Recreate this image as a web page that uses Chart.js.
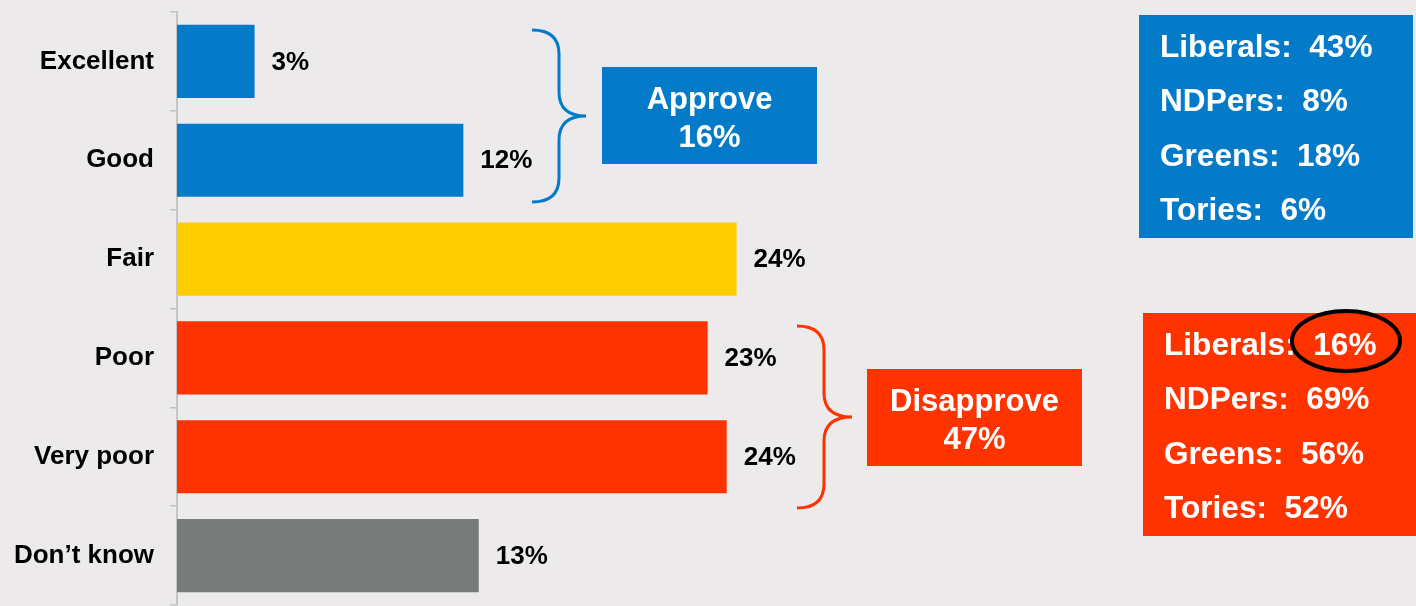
<!DOCTYPE html>
<html>
<head>
<meta charset="utf-8">
<script src="https://cdn.jsdelivr.net/npm/chart.js@4"></script>
<style>
  html, body { margin: 0; padding: 0; background: #ECEAEB; }
  #wrap { width: 1416px; height: 606px; position: relative; }
</style>
</head>
<body>
<div id="wrap"><canvas id="grafico"></canvas></div>
<script>
// Datos de la encuesta
const categories = ["Excellent", "Good", "Fair", "Poor", "Very poor", "Don\u2019t know"];
const shares = [3.37, 12.44, 24.31, 23.05, 23.88, 13.11];
const barColors = ["#037BC8", "#037BC8", "#FFCC00", "#FF3300", "#FF3300", "#777C7B"];

// Desglose por partido
const partyNames = ["Liberals", "NDPers", "Greens", "Tories"];
const approveByParty = [43, 8, 18, 6];
const disapproveByParty = [16, 69, 56, 52];

const BLUE = "#037BC8";
const RED = "#FF3300";
const BG = "#ECEAEB";
const FONT = "'Liberation Sans', Arial, sans-serif";

// Totales de los grupos (aprobado = Excellent + Good, desaprobado = Poor + Very poor)
const approveTotal = Math.round(shares[0] + shares[1]);
const disapproveTotal = Math.round(shares[3] + shares[4]);

// Llave "}" con punta hacia la derecha
function drawBrace(ctx, xEnd, xMid, xTip, yTop, yMid, yBot, r, color) {
    ctx.save();
    ctx.strokeStyle = color;
    ctx.lineWidth = 3;
    ctx.beginPath();
    ctx.moveTo(xEnd, yTop);
    ctx.quadraticCurveTo(xMid, yTop, xMid, yTop + r);
    ctx.lineTo(xMid, yMid - r);
    ctx.quadraticCurveTo(xMid, yMid, xTip, yMid);
    ctx.quadraticCurveTo(xMid, yMid, xMid, yMid + r);
    ctx.lineTo(xMid, yBot - r);
    ctx.quadraticCurveTo(xMid, yBot, xEnd, yBot);
    ctx.stroke();
    ctx.restore();
}

// Caja con texto centrado en dos líneas
function drawSummaryBox(ctx, x, y, w, h, color, lines) {
    ctx.save();
    ctx.fillStyle = color;
    ctx.fillRect(x, y, w, h);
    ctx.fillStyle = "#FFFFFF";
    ctx.font = "bold 31px " + FONT;
    ctx.textAlign = "center";
    ctx.textBaseline = "alphabetic";
    lines.forEach((t, i) => ctx.fillText(t, x + w / 2, y + 42 + i * 38));
    ctx.restore();
}

// Caja con el desglose por partido
function drawPartyBox(ctx, x, y, w, h, color, values) {
    ctx.save();
    ctx.fillStyle = color;
    ctx.fillRect(x, y, w, h);
    ctx.fillStyle = "#FFFFFF";
    ctx.font = "bold 31.6px " + FONT;
    ctx.textAlign = "left";
    ctx.textBaseline = "alphabetic";
    const offsets = [42, 96, 151, 205];
    partyNames.forEach((name, i) => {
        ctx.fillText(name + ":  " + values[i] + "%", x + 21, y + offsets[i]);
    });
    ctx.restore();
}

const fondo = {
    id: "fondo",
    beforeDraw(chart) {
        const ctx = chart.ctx;
        ctx.save();
        ctx.fillStyle = BG;
        ctx.fillRect(0, 0, chart.width, chart.height);
        ctx.restore();
    }
};

// Etiquetas de valor al final de cada barra
const etiquetas = {
    id: "etiquetas",
    afterDatasetsDraw(chart) {
        const ctx = chart.ctx;
        const meta = chart.getDatasetMeta(0);
        ctx.save();
        ctx.fillStyle = "#000000";
        ctx.font = "bold 26px " + FONT;
        ctx.textAlign = "left";
        ctx.textBaseline = "middle";
        meta.data.forEach((bar, i) => {
            ctx.fillText(Math.round(shares[i]) + "%", bar.x + 17, bar.y + 1);
        });
        ctx.restore();
    }
};

// Llaves, cajas de resumen y desglose por partido
const anotaciones = {
    id: "anotaciones",
    afterDraw(chart) {
        const ctx = chart.ctx;
        drawBrace(ctx, 532, 559, 586, 30, 116, 202, 24, BLUE);
        drawBrace(ctx, 797, 824, 852, 326, 417, 508, 24, RED);

        drawSummaryBox(ctx, 602, 67, 215, 97, BLUE, ["Approve", approveTotal + "%"]);
        drawSummaryBox(ctx, 867, 369, 215, 97, RED, ["Disapprove", disapproveTotal + "%"]);

        drawPartyBox(ctx, 1139, 15, 274, 223, BLUE, approveByParty);
        drawPartyBox(ctx, 1143, 313, 280, 223, RED, disapproveByParty);

        // Círculo que resalta a los liberales
        ctx.save();
        ctx.strokeStyle = "#000000";
        ctx.lineWidth = 4;
        ctx.beginPath();
        ctx.ellipse(1346, 341, 54, 30, 0, 0, Math.PI * 2);
        ctx.stroke();
        ctx.restore();
    }
};

const canvas = document.getElementById("grafico");
new Chart(canvas, {
    type: "bar",
    data: {
        labels: categories,
        datasets: [{
            data: shares,
            backgroundColor: barColors,
            borderWidth: 0,
            barPercentage: 0.74,
            categoryPercentage: 1
        }]
    },
    options: {
        indexAxis: "y",
        responsive: true,
        maintainAspectRatio: false,
        animation: false,
        devicePixelRatio: 1,
        layout: { padding: { top: 12, bottom: 1, left: 0, right: 88 } },
        plugins: {
            legend: { display: false },
            tooltip: { enabled: false }
        },
        scales: {
            x: { display: false, min: 0, max: 50 },
            y: {
                afterFit(scale) {
                    // ancho fijo del eje y sin margen extra arriba/abajo
                    scale.width = 177;
                    scale.paddingTop = 0;
                    scale.paddingBottom = 0;
                },
                border: { display: true, color: "#C4C4C4", width: 2 },
                grid: {
                    drawOnChartArea: false,
                    drawTicks: true,
                    tickLength: 7,
                    color: "#C4C4C4",
                    lineWidth: 1.5
                },
                ticks: {
                    color: "#000000",
                    padding: 16,
                    font: { family: FONT, size: 26, weight: "bold" }
                }
            }
        }
    },
    plugins: [fondo, etiquetas, anotaciones]
});
</script>
</body>
</html>
